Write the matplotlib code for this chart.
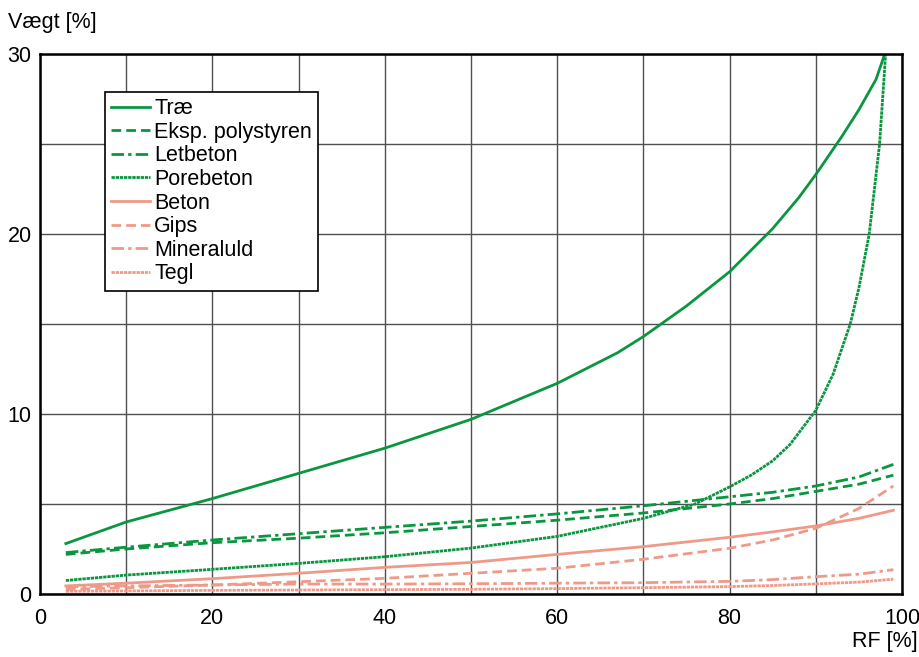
import matplotlib
matplotlib.use("Agg")
import matplotlib.pyplot as plt

# Data (RF in %, weight in %)
rf_trae = [3, 10, 20, 30, 40, 50, 60, 67, 70, 75, 80, 85, 88, 90, 93, 95, 97, 98]
trae = [2.8, 4.0, 5.3, 6.7, 8.1, 9.7, 11.7, 13.4, 14.3, 16.0, 17.9, 20.3, 22.0, 23.3, 25.4, 26.9, 28.6, 30.0]

rf_pore = [3, 10, 20, 30, 40, 50, 60, 70, 76, 80, 82.5, 85, 87, 90, 92, 94, 95, 96.2, 97.4, 98.1]
porebeton = [0.75, 1.05, 1.37, 1.7, 2.07, 2.55, 3.2, 4.2, 5.0, 5.95, 6.6, 7.4, 8.3, 10.2, 12.2, 15.0, 17.0, 20.0, 25.0, 30.0]

rf_std = [3, 10, 20, 30, 40, 50, 60, 70, 80, 85, 90, 95, 99]
eksp_polystyren = [2.2, 2.5, 2.85, 3.1, 3.4, 3.75, 4.1, 4.5, 5.0, 5.3, 5.7, 6.1, 6.6]
letbeton = [2.3, 2.6, 3.0, 3.35, 3.7, 4.05, 4.45, 4.9, 5.4, 5.65, 6.0, 6.5, 7.2]
beton = [0.45, 0.6, 0.85, 1.15, 1.48, 1.75, 2.2, 2.63, 3.15, 3.45, 3.78, 4.2, 4.65]
gips = [0.25, 0.35, 0.5, 0.68, 0.87, 1.15, 1.43, 1.93, 2.54, 3.0, 3.65, 4.75, 6.0]
mineraluld = [0.4, 0.45, 0.5, 0.55, 0.55, 0.57, 0.6, 0.63, 0.7, 0.8, 0.96, 1.1, 1.35]
tegl = [0.15, 0.17, 0.2, 0.22, 0.24, 0.26, 0.3, 0.35, 0.41, 0.47, 0.56, 0.66, 0.82]

GREEN = "#0a9640"
SALMON = "#ef9a88"

DASHED = (0, (3.5, 1.8))
DASHDOT = (0, (4.5, 1.5, 1.2, 1.5))
DOTTED = (0, (1.2, 0.3))

series = [
    ("Træ", rf_trae, trae, GREEN, "-"),
    ("Eksp. polystyren", rf_std, eksp_polystyren, GREEN, DASHED),
    ("Letbeton", rf_std, letbeton, GREEN, DASHDOT),
    ("Porebeton", rf_pore, porebeton, GREEN, DOTTED),
    ("Beton", rf_std, beton, SALMON, "-"),
    ("Gips", rf_std, gips, SALMON, DASHED),
    ("Mineraluld", rf_std, mineraluld, SALMON, DASHDOT),
    ("Tegl", rf_std, tegl, SALMON, DOTTED),
]

plt.rcParams["font.family"] = ["Liberation Sans", "DejaVu Sans"]

fig = plt.figure(figsize=(9.19, 6.57), dpi=100)
ax = fig.add_axes([0.0435, 0.0959, 0.938, 0.822])

for label, xs, ys, color, ls in series:
    ax.plot(xs, ys, color=color, linestyle=ls, linewidth=2.0, label=label)

ax.set_xlim(0, 100)
ax.set_ylim(0, 30)
ax.set_xticks(range(0, 101, 10))
ax.set_xticklabels([str(v) if v % 20 == 0 else "" for v in range(0, 101, 10)])
ax.set_yticks(range(0, 31, 5))
ax.set_yticklabels([str(v) if v % 10 == 0 else "" for v in range(0, 31, 5)])
ax.grid(True, color="#505050", linewidth=1.0)
ax.set_axisbelow(True)
ax.tick_params(length=0, labelsize=15.5)
ax.tick_params(axis="x", pad=10)
ax.tick_params(axis="y", pad=6)
for sp in ax.spines.values():
    sp.set_linewidth(1.8)
    sp.set_color("black")

fig.text(0.009, 0.966, "Vægt [%]", fontsize=15.5, ha="left", va="center")
fig.text(0.998, 0.024, "RF [%]", fontsize=15.5, ha="right", va="center")

leg = ax.legend(loc="upper left", bbox_to_anchor=(0.075, 0.93), borderaxespad=0,
                fontsize=15.5, handlelength=1.8, handletextpad=0.2,
                labelspacing=0.12, borderpad=0.3, fancybox=False,
                framealpha=1, edgecolor="black")
leg.get_frame().set_linewidth(1.2)

fig.savefig("out.png", dpi=100)
